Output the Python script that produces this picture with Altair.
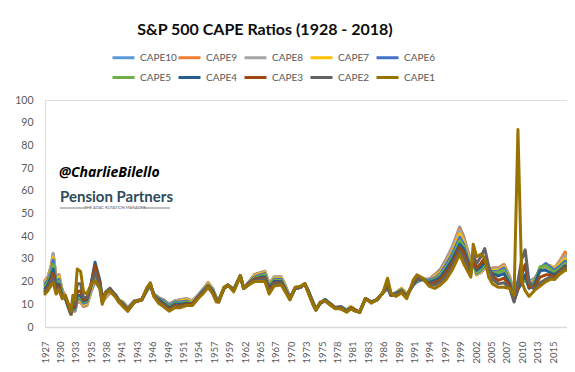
import altair as alt
import pandas as pd

# ---------------- data ----------------
dates = [
    "1927-12", "1928-06", "1929-01", "1929-05", "1929-11", "1930-05", "1930-12", "1931-06", "1932-01", "1932-06",
    "1932-10", "1933-02", "1933-07", "1934-02", "1934-08", "1935-03", "1935-11", "1936-08", "1937-06", "1937-11",
    "1938-06", "1939-03", "1940-03", "1940-09", "1941-06", "1942-04", "1943-06", "1944-09", "1945-08", "1946-03",
    "1946-10", "1947-08", "1948-06", "1949-06", "1950-06", "1951-06", "1952-06", "1953-06", "1954-06", "1955-06",
    "1956-03", "1956-12", "1957-08", "1958-01", "1958-12", "1959-08", "1960-08", "1961-10", "1962-05", "1963-03",
    "1964-03", "1965-06", "1966-01", "1966-10", "1967-08", "1968-11", "1969-06", "1970-05", "1971-04", "1972-03",
    "1972-12", "1973-07", "1974-05", "1974-11", "1975-08", "1976-06", "1977-06", "1978-03", "1979-03", "1980-03",
    "1980-12", "1981-09", "1982-06", "1983-06", "1984-06", "1985-06", "1986-06", "1987-04", "1987-11", "1988-09",
    "1989-09", "1990-08", "1991-09", "1992-05", "1993-06", "1994-06", "1995-06", "1996-06", "1997-06", "1998-06",
    "1999-10", "2000-06", "2001-09", "2002-02", "2002-09", "2003-06", "2004-02", "2004-10", "2005-06", "2006-06",
    "2007-06", "2008-06", "2009-03", "2009-11", "2010-07", "2011-02", "2011-10", "2012-09", "2013-09", "2014-09",
    "2015-06", "2016-03", "2017-03", "2018-01", "2018-05",
]

cape10 = [
    20, 22, 27, 32, 22, 23, 16, 14, 9, 5.5,
    8, 7, 11, 11, 9, 9.5, 15, 20, 17, 11,
    13, 15, 14, 12, 11, 8.5, 11.5, 12, 16, 18,
    14.5, 13, 12, 10, 11.5, 12, 12.5, 11.5, 14, 17,
    19.5, 17, 13, 12, 17, 18.5, 16.5, 22.5, 17, 19.5,
    23, 24, 24.5, 19, 22, 22, 19, 13, 17, 17.5,
    19, 16, 11, 8, 10.5, 12, 10, 8.5, 9, 7.5,
    9, 7.5, 6.5, 12.5, 11, 12, 15, 17, 14, 15,
    17, 14.5, 18.5, 20, 21, 21, 23, 25.5, 30, 35,
    44, 40, 29, 30, 23, 24, 26, 25, 26, 26,
    27.5, 22, 14, 20, 21, 23, 20, 21.5, 24.5, 26,
    27, 25.5, 29, 33, 31,
]
cape9 = [
    20.5, 22, 27, 32, 22, 23, 16, 14, 9, 5.5,
    8, 7, 11, 11, 9, 9.5, 15.5, 21, 17.5, 11,
    13, 15, 14, 12, 11, 8.5, 11.5, 12, 16, 18,
    14.5, 13, 12, 10, 11.5, 12, 12.5, 11.5, 14, 17,
    19.5, 17, 13, 12, 17, 18.5, 16.5, 22.5, 17, 19.5,
    23, 24, 24.5, 19, 22, 22, 19, 13, 17, 17.5,
    19, 16, 11, 8, 10.5, 12, 10, 8.5, 9, 7.5,
    9, 7.5, 6.5, 12.5, 11, 12, 15, 17, 14, 15,
    17, 14.5, 18.5, 20, 21, 21, 23, 25, 29.5, 34.5,
    43.5, 39.5, 28.5, 29.5, 23, 24, 26, 25, 26, 26,
    27.5, 22, 14, 19.5, 20.5, 22.5, 19.5, 21, 24.5, 26,
    27, 26, 29.5, 33, 31.5,
]
cape8 = [
    20, 21.5, 26.5, 32.5, 21.5, 22.5, 15.5, 13.5, 9, 5.5,
    8, 7, 11.5, 11.5, 9.5, 10, 16, 22, 18, 11.5,
    13.5, 15.5, 14, 12, 11, 8.5, 11.5, 12, 16, 18,
    14.5, 13, 12, 10, 11.5, 12, 12.5, 11.5, 14, 17,
    19, 17, 13, 12, 17, 18.5, 16.5, 22.5, 17, 19.5,
    22.5, 24, 24.5, 19, 22, 22, 19, 13, 17, 17.5,
    19, 16, 11, 8, 10.5, 12, 10, 8.5, 9, 7.5,
    9, 7.5, 6.5, 12.5, 11, 12, 15, 17, 14, 15,
    17, 14.5, 18.5, 20, 21, 21, 22.5, 24.5, 29, 34,
    42.5, 38.5, 28, 29, 23, 24, 26, 25, 25.5, 25.5,
    27, 21.5, 13.5, 19, 20, 22, 19, 21, 25, 26.5,
    27, 26, 29, 31.5, 30,
]
cape7 = [
    19.5, 21, 26, 30.5, 21, 22, 15, 13, 8.5, 5.5,
    8.5, 7.5, 12, 12, 10, 10.5, 16.5, 23, 18.5, 11.5,
    14, 16, 14, 12, 10.5, 8, 11.5, 12, 16, 18.5,
    14.5, 12.5, 11.5, 9.5, 11, 11.5, 12, 11, 13.5, 16.5,
    19, 16.5, 12.5, 12, 17, 18.5, 16.5, 22.5, 17, 19.5,
    22.5, 23.5, 24, 18.5, 21.5, 21.5, 18.5, 13, 17, 17.5,
    19, 16, 11, 8, 10.5, 12, 10, 8.5, 9, 7.5,
    9, 7.5, 6.5, 12.5, 11, 12, 15, 17.5, 14, 15,
    17, 14.5, 18.5, 20, 21, 20.5, 22, 24, 28, 33,
    41, 37.5, 27, 28.5, 23, 24.5, 26.5, 25, 25, 25,
    26.5, 21, 13, 18.5, 19.5, 21.5, 18.5, 20.5, 25.5, 27.5,
    27, 25.5, 28, 30, 29,
]
cape6 = [
    19, 20.5, 25, 29.5, 20, 21, 14.5, 13, 8.5, 5.5,
    8.5, 7.5, 12.5, 12.5, 10.5, 11, 17, 24.5, 19, 12,
    14.5, 16, 14, 12, 10.5, 8, 11.5, 12, 16.5, 18.5,
    14.5, 12.5, 11.5, 9.5, 11, 11, 11.5, 10.5, 13.5, 16.5,
    18.5, 16.5, 12.5, 11.5, 17, 18.5, 16.5, 22.5, 17, 19.5,
    22, 23, 23.5, 18, 21, 21, 18, 13, 17, 17.5,
    19, 16, 11, 8, 10.5, 12, 10, 8.5, 9, 7.5,
    8.5, 7.5, 6.5, 12.5, 11, 12, 15, 17.5, 14, 15,
    16.5, 14, 18.5, 20, 21, 20.5, 21.5, 23.5, 27.5, 32,
    39.5, 36.5, 26, 28.5, 23.5, 25, 27, 25, 24.5, 24.5,
    26, 20.5, 12.5, 18, 19, 21, 18, 20, 26, 28,
    26.5, 25, 27, 29, 28,
]
cape5 = [
    18, 19.5, 24, 27.5, 19, 20, 14, 13, 8.5, 5.5,
    9, 8, 13, 13, 11, 11.5, 17.5, 27, 20, 12.5,
    15, 16.5, 14, 12, 10.5, 8, 11, 12, 16.5, 18.5,
    14.5, 12, 11, 9, 10.5, 10.5, 11, 10.5, 13, 16,
    18.5, 16, 12.5, 11.5, 17, 18.5, 16, 22.5, 17, 19,
    21.5, 22.5, 23, 17.5, 20.5, 20.5, 17.5, 12.5, 17, 17.5,
    19, 16, 10.5, 7.5, 10.5, 12, 10, 8.5, 8.5, 7.5,
    8.5, 7.5, 6.5, 12.5, 11, 12, 15, 18, 14, 14.5,
    16.5, 14, 18.5, 20.5, 21, 20, 21, 23, 26.5, 30.5,
    38, 35.5, 25.5, 28.5, 24, 25.5, 27.5, 25, 24, 24,
    25, 20, 12, 17, 19, 21.5, 17.5, 19.5, 26.5, 27,
    25.5, 24, 26, 28, 27.5,
]
cape4 = [
    17, 18.5, 22.5, 25.5, 18, 19, 13.5, 13, 8.5, 6,
    9.5, 8.5, 14, 14, 11.5, 12, 18, 28.5, 20.5, 12.5,
    15.5, 17, 14, 11.5, 10, 7.5, 11, 12, 16.5, 19,
    14, 12, 10.5, 8.5, 10, 10, 10.5, 10, 13, 16,
    18, 16, 12, 11.5, 17, 18.5, 16, 22.5, 17, 19,
    21, 22, 22, 17, 20, 20, 17, 12.5, 17, 17.5,
    19, 16, 10.5, 7.5, 10.5, 12, 10, 8.5, 8.5, 7,
    8.5, 7.5, 6.5, 12.5, 11, 12, 15, 18, 14, 14.5,
    16, 13.5, 18.5, 21, 21, 19.5, 20.5, 22, 25.5, 29.5,
    36.5, 34.5, 25, 29, 25, 26.5, 28.5, 25.5, 23.5, 22.5,
    23.5, 19, 11.5, 16.5, 20, 23, 17, 18.5, 25, 25,
    24, 23, 25, 27, 26.5,
]
cape3 = [
    16, 17.5, 21, 23.5, 16.5, 18, 13, 13, 9, 6,
    10, 9, 15.5, 16, 12, 12.5, 18, 27, 19.5, 12,
    15, 17, 13.5, 11.5, 10, 7.5, 11, 12, 17, 19,
    14, 11.5, 10, 8, 9.5, 9.5, 10, 10, 13, 15.5,
    18, 15.5, 12, 11, 17, 18.5, 16, 22.5, 17, 19,
    21, 21.5, 21.5, 16, 19.5, 19.5, 17, 12.5, 17, 17.5,
    19, 15.5, 10, 7.5, 10.5, 11.5, 10, 8.5, 8.5, 7,
    8.5, 7.5, 6.5, 12.5, 11, 12, 15, 19, 14, 14,
    16, 13.5, 19, 21.5, 21, 19, 19.5, 21, 24, 28,
    35, 33, 24, 30, 26, 28, 30.5, 26, 22.5, 20.5,
    21.5, 18, 11.5, 17, 23, 27.5, 17.5, 17.5, 22, 23,
    23, 22, 24.5, 26.5, 26,
]
cape2 = [
    15.5, 17, 20, 21.5, 15.5, 17, 12.5, 13.5, 9.5, 6.5,
    12, 10, 19, 19, 13, 13, 18, 24, 18, 11,
    15, 17, 13.5, 11, 9.5, 7, 11, 12, 17, 19,
    14, 11, 9.5, 7.5, 9, 9, 9.5, 9.5, 12.5, 15.5,
    17.5, 15, 11.5, 11, 17.5, 18.5, 16, 22.5, 17, 18.5,
    20.5, 21, 21, 15, 19, 19, 16.5, 12, 17, 17.5,
    19, 15.5, 10, 7.5, 10.5, 11.5, 9.5, 8.5, 8, 7,
    8, 7, 6.5, 12.5, 11, 12, 15, 19.5, 14.5, 14,
    15.5, 13, 19.5, 22, 21, 18.5, 18.5, 20, 22.5, 26.5,
    33.5, 31, 23, 32, 28, 31, 34.5, 27, 21, 19,
    19.5, 17, 11, 20, 30, 34, 20, 16.5, 19.5, 21,
    22, 21, 24, 26, 25.5,
]
cape1 = [
    14.5, 16, 18.5, 19.5, 14.5, 16.5, 12.5, 14, 10, 7,
    14, 12, 25.5, 24.5, 15.5, 14.5, 18.5, 20.5, 17, 10,
    15, 16, 13, 11, 9, 7, 11, 12, 17.5, 19.5,
    13.5, 10.5, 9, 7, 8.5, 8.5, 9.5, 9.5, 12.5, 15,
    17.5, 15, 11, 11, 17.5, 18.5, 15.5, 22.5, 17, 18.5,
    20, 20, 20, 14.5, 18, 18.5, 16, 12, 17.5, 18,
    19, 15, 10, 7.5, 11, 11.5, 9.5, 8, 8, 6.5,
    8, 7, 6.5, 12.5, 10.5, 12, 15, 21.5, 15, 13.5,
    15, 12.5, 20.5, 23, 21.5, 18, 17, 18.5, 21, 25,
    32, 28, 22, 36.5, 31, 32, 30.5, 22, 19, 17.5,
    17.5, 17, 14, 87, 20, 16, 13.5, 16, 18, 20,
    21, 21, 23.5, 25, 25,
]

series_names = ["CAPE10", "CAPE9", "CAPE8", "CAPE7", "CAPE6",
                "CAPE5", "CAPE4", "CAPE3", "CAPE2", "CAPE1"]
series_colors = ["#5B9BD5", "#ED7D31", "#A5A5A5", "#FFC000", "#4472C4",
                 "#70AD47", "#255E91", "#9E480E", "#636363", "#997300"]
series_values = [cape10, cape9, cape8, cape7, cape6, cape5, cape4, cape3, cape2, cape1]

x_tick_months = [
    "1927-12", "1930-08", "1933-04", "1935-12", "1938-08", "1941-04", "1943-12",
    "1946-08", "1949-04", "1951-12", "1954-08", "1957-04", "1959-12", "1962-08",
    "1965-04", "1967-12", "1970-08", "1973-04", "1975-12", "1978-08", "1981-04",
    "1983-12", "1986-08", "1989-04", "1991-12", "1994-08", "1997-04", "1999-12",
    "2002-08", "2005-04", "2007-12", "2010-08", "2013-04", "2015-12",
]
y_ticks = [0, 10, 20, 30, 40, 50, 60, 70, 80, 90, 100]
x_domain = ["1927-12", "2018-05"]

title_text = "S&P 500 CAPE Ratios (1928 - 2018)"
handle_text = "@CharlieBilello"
brand_text = "Pension Partners"
tagline_text = "THE ADAC ROTATION MANAGER"

# ---------------- build table ----------------
rows = []
for name, vals in zip(series_names, series_values):
    for d, v in zip(dates, vals):
        rows.append({"date": d.replace("-", "/") + "/01", "series": name, "value": v})
df = pd.DataFrame(rows)


def dt(s):
    y, m = s.split("-")
    return alt.DateTime(year=int(y), month=int(m), date=1)


FONT = "Lato"
LABEL_COLOR = "#595959"

x_enc = alt.X(
    "date:T",
    scale=alt.Scale(domain=[dt(x_domain[0]), dt(x_domain[1])]),
    axis=alt.Axis(
        values=[dt(s) for s in x_tick_months],
        format="%Y",
        labelAngle=-90,
        labelFont=FONT,
        labelFontSize=9.5,
        labelColor=LABEL_COLOR,
        labelPadding=14,
        labelOverlap=False,
        labelFlush=False,
        ticks=False,
        grid=False,
        domainColor="#D9D9D9",
        domainWidth=1.5,
    ),
    title=None,
)
y_enc = alt.Y(
    "value:Q",
    scale=alt.Scale(domain=[0, 100], nice=False),
    axis=alt.Axis(
        values=y_ticks,
        labelFont=FONT,
        labelFontSize=10.5,
        labelColor=LABEL_COLOR,
        labelPadding=12,
        ticks=False,
        grid=False,
        domain=False,
    ),
    title=None,
)
color_enc = alt.Color(
    "series:N",
    scale=alt.Scale(domain=series_names, range=series_colors),
    legend=alt.Legend(
        title=None,
        orient="none",
        direction="horizontal",
        legendX=66,
        legendY=-55,
        columns=5,
        symbolType="stroke",
        symbolSize=484,
        symbolStrokeWidth=3,
        labelFont=FONT,
        labelFontSize=10,
        labelColor=LABEL_COLOR,
        labelOffset=4,
        gridAlign="all",
        columnPadding=-8.5,
        rowPadding=1,
        padding=0,
    ),
)

layers = []
for name in series_names:
    layers.append(
        alt.Chart(df)
        .transform_filter(alt.datum.series == name)
        .mark_line(strokeWidth=3, strokeJoin="round", strokeCap="round")
        .encode(x=x_enc, y=y_enc, color=color_enc)
    )

handle = alt.Chart(pd.DataFrame({"t": [handle_text]})).mark_text(
    align="left", baseline="alphabetic", font="Open Sans", fontSize=14,
    fontStyle="italic", fontWeight="bold", color="#000000"
).encode(x=alt.value(14), y=alt.value(77), text="t:N")

brand = alt.Chart(pd.DataFrame({"t": [brand_text]})).mark_text(
    align="left", baseline="alphabetic", font=FONT, fontSize=15,
    fontWeight="bold", color="#2E4A5B"
).encode(x=alt.value(15), y=alt.value(102), text="t:N")

tagline = alt.Chart(pd.DataFrame({"t": [tagline_text]})).mark_text(
    align="center", baseline="middle", font=FONT, fontSize=4,
    color="#555555"
).encode(x=alt.value(70), y=alt.value(108), text="t:N")

rule_l = alt.Chart(pd.DataFrame({"t": [0]})).mark_rule(color="#7F7F7F", strokeWidth=1).encode(
    x=alt.value(15), x2=alt.value(42), y=alt.value(108)
)
rule_r = alt.Chart(pd.DataFrame({"t": [0]})).mark_rule(color="#7F7F7F", strokeWidth=1).encode(
    x=alt.value(98), x2=alt.value(125), y=alt.value(108)
)

chart = (
    alt.layer(*layers, handle, brand, tagline, rule_l, rule_r)
    .properties(
        width=522,
        height=227,
        padding={"left": 37, "top": 92, "right": 0, "bottom": 37},
        autosize=alt.AutoSizeParams(type="none"),
        title=alt.TitleParams(
            title_text, font=FONT, fontSize=16, fontWeight="bold",
            color="#0D0D0D", anchor="middle", dx=-41, offset=7
        ),
    )
    .configure_view(stroke=None)
    .configure(background="white")
)

chart.save("out.html", embed_options={"renderer": "svg", "actions": False})
